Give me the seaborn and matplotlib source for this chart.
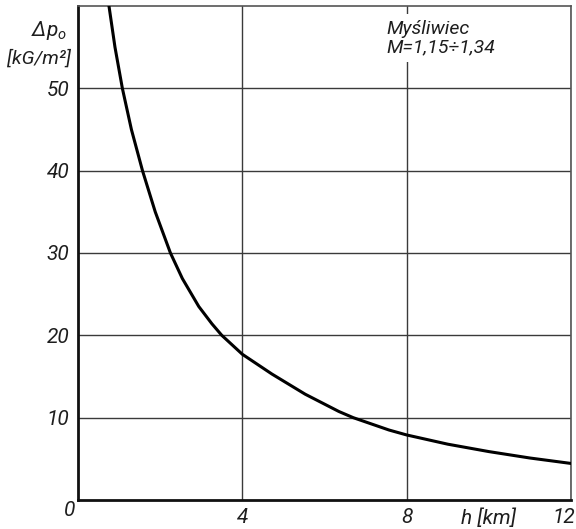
import matplotlib
matplotlib.use("Agg")
import matplotlib.pyplot as plt
import matplotlib.transforms as mtransforms
import seaborn as sns
import pandas as pd

# Altitude h [km] and overpressure Δp0 [kG/m²]
altitude_km = [0.754, 0.90, 1.08, 1.30, 1.57, 1.88, 2.25, 2.54, 2.94, 3.26,
               3.50, 4.0, 4.72, 5.53, 6.35, 6.70, 7.57, 8.0, 9.0, 10.0,
               11.0, 12.0]
overpressure = [60.0, 55.0, 50.0, 45.0, 40.0, 35.0, 30.0, 26.9, 23.5, 21.4,
                20.0, 17.7, 15.3, 12.85, 10.75, 10.0, 8.5, 7.9, 6.78, 5.88,
                5.1, 4.44]

x_ticks = [4, 8, 12]
y_ticks = [10, 20, 30, 40, 50]
title_lines = ["Myśliwiec", "M=1,15÷1,34"]

df = pd.DataFrame({"h": altitude_km, "dp": overpressure})

sns.set_theme(style="white")
plt.rcParams["font.family"] = ["Roboto", "DejaVu Sans"]
plt.rcParams["mathtext.fontset"] = "custom"
plt.rcParams["mathtext.rm"] = "Roboto"
plt.rcParams["mathtext.it"] = "Roboto:italic"

fig = plt.figure(figsize=(5.76, 5.29), dpi=100)
ax = fig.add_axes([78 / 576, 29 / 529, 493 / 576, 494 / 529])

sns.lineplot(data=df, x="h", y="dp", ax=ax, color="black", linewidth=2.2,
             zorder=5)

ax.set_xlim(0, 12)
ax.set_ylim(0, 60)
ax.set_xticks(x_ticks)
ax.set_yticks(y_ticks)
ax.grid(True, color="#3a3a3a", linewidth=1.0)
ax.set_xlabel("")
ax.set_ylabel("")

lab_font = dict(style="italic", fontsize=15, color="#1e1e1e",
                weight="normal", family=["Roboto", "DejaVu Sans"])
ax.set_xticklabels([str(t) for t in x_ticks], **lab_font)
ax.set_yticklabels([str(t) for t in y_ticks], **lab_font)
ax.tick_params(axis="both", length=0, pad=6)

# last x label sits flush against the right edge
last = ax.get_xticklabels()[-1]
last.set_ha("right")
last.set_transform(last.get_transform() +
                   mtransforms.ScaledTranslation(4 / 100, 0, fig.dpi_scale_trans))

for side in ["left", "bottom"]:
    ax.spines[side].set_color("#111111")
    ax.spines[side].set_linewidth(2.0)
for side in ["top", "right"]:
    ax.spines[side].set_color("#555555")
    ax.spines[side].set_linewidth(1.2)

# origin label shared by both axes
ax.annotate("0", xy=(0, 0), xytext=(-6, -7.5), textcoords="offset points",
            ha="center", va="center", **lab_font)

# axis titles
ax.annotate("h [km]", xy=(10, 0), xytext=(0, -13), textcoords="offset points",
            ha="center", va="center", **lab_font)
ax.annotate("Δp$_{o}$", xy=(0, 60), xytext=(-21, -18), textcoords="offset points",
            ha="center", va="center", annotation_clip=False, **lab_font)
ax.annotate("[kG/m²]", xy=(0, 60), xytext=(-28, -38), textcoords="offset points",
            ha="center", va="center", annotation_clip=False,
            **{**lab_font, "fontsize": 14})

ax.text(7.5, 58.3, "\n".join(title_lines), ha="left", va="top",
        linespacing=1.05, zorder=4,
        bbox=dict(facecolor="white", edgecolor="none", pad=4),
        **{**lab_font, "fontsize": 14})

fig.savefig("out.png", dpi=100)
